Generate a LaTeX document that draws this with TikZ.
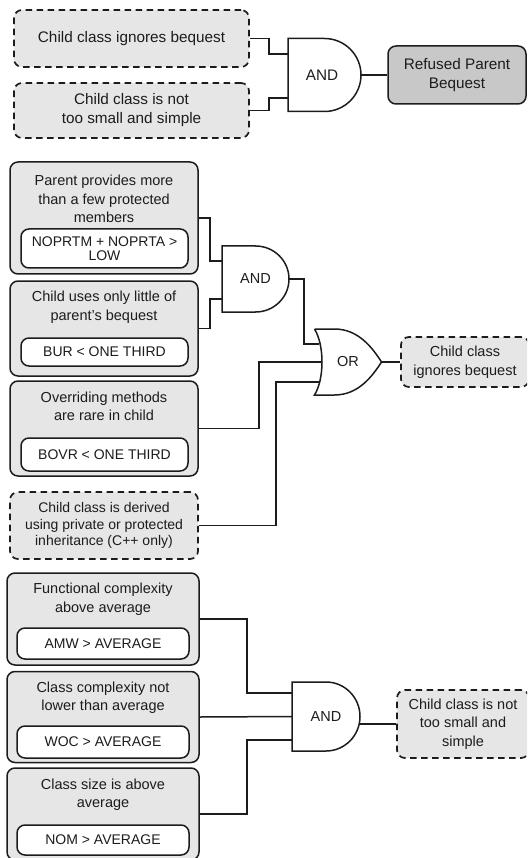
\documentclass[tikz,border=0pt]{standalone}
\usepackage{fontspec}
\setmainfont{Liberation Sans}
\usetikzlibrary{calc}

\definecolor{boxfill}{HTML}{E6E6E6}
\definecolor{darkfill}{HTML}{C8C8C8}
\definecolor{ink}{HTML}{1C1C1C}

\tikzset{
  every node/.style={text=ink, font=\fontsize{14.5}{18.5}\selectfont},
  bigtext/.style={font=\fontsize{15.3}{19}\selectfont},
  dashbox/.style={draw=ink, line width=1.7pt, dash pattern=on 6.5pt off 4.5pt,
    fill=boxfill, rounded corners=8pt, align=center, inner sep=0pt},
  critbox/.style={draw=ink, line width=1.5pt, fill=boxfill,
    rounded corners=8pt, inner sep=0pt},
  metricbox/.style={draw=ink, line width=1.5pt, fill=white,
    rounded corners=8pt, inner sep=0pt, align=center,
    font=\fontsize{14}{14.5}\selectfont},
  resultbox/.style={draw=ink, line width=1.5pt, fill=darkfill,
    rounded corners=8pt, inner sep=0pt, align=center},
  title/.style={align=center, inner sep=0pt},
  gate/.style={inner sep=0pt, outer sep=0pt},
  gateline/.style={draw=ink, line width=1.5pt},
  wire/.style={draw=ink, line width=1.5pt},
}

% AND gate outline drawn from the anchors of its node
\newcommand{\andshape}[1]{%
  \draw[gateline] (#1.south west) -- (#1.north west) -- (#1.north)
    .. controls ($(#1.north)!0.552!(#1.north east)$) and ($(#1.east)!0.552!(#1.north east)$) .. (#1.east)
    .. controls ($(#1.east)!0.552!(#1.south east)$) and ($(#1.south)!0.552!(#1.south east)$) .. (#1.south)
    -- cycle;}

% OR gate outline drawn from the anchors of its node
\newcommand{\orshape}[1]{%
  \draw[gateline] (#1.north west) -- ($(#1.north west)+(20,0)$)
    .. controls ($(#1.north west)+(44,0)$) and ($(#1.east)+(-9,-14)$) .. (#1.east)
    .. controls ($(#1.east)+(-9,14)$) and ($(#1.south west)+(44,0)$) .. ($(#1.south west)+(20,0)$)
    -- (#1.south west)
    .. controls ($(#1.south west)+(10,-16)$) and ($(#1.north west)+(10,16)$) .. (#1.north west);}

\begin{document}
\begin{tikzpicture}[x=1pt, y=-1pt]
\useasboundingbox (0,0) rectangle (527,858);
\clip (0,0) rectangle (527,858);

% ---------- top: refused parent bequest ----------
\node[dashbox, bigtext, minimum width=235pt, minimum height=57pt] (A) at (131.5,38.5)
  {Child class ignores bequest};
\node[dashbox, bigtext, minimum width=235pt, minimum height=55pt] (B) at (131.5,110.5)
  {Child class is not\\too small and simple};
\node[resultbox, bigtext, minimum width=138pt, minimum height=58pt] (C) at (457,75)
  {Refused Parent\\Bequest};
\node[gate, bigtext, minimum width=73pt, minimum height=73pt] (g1) at (324.5,75) {};
\node[bigtext] (g1t) at (322,75) {AND};
\andshape{g1}
\coordinate (g1i1) at ($(g1.west)+(0,-21)$);
\coordinate (g1i2) at ($(g1.west)+(0,23)$);
\draw[wire] (A.east) -- ++(19,0) |- (g1i1);
\draw[wire] (B.east) -- ++(19,0) |- (g1i2);
\draw[wire] (g1.east) -- (C.west);

% ---------- middle: child class ignores bequest ----------
\node[critbox, minimum width=188pt, minimum height=112pt] (p1) at (104,218) {};
\node[title] (p1t) at (104,199) {Parent provides more\\than a few protected\\members};
\node[metricbox, minimum width=167pt, minimum height=39pt] (p1m) at (104.5,248.5)
  {NOPRTM + NOPRTA >\\LOW};

\node[critbox, minimum width=188pt, minimum height=95pt] (p2) at (104,328.5) {};
\node[title] (p2t) at (104,307.5) {Child uses only little of\\parent's bequest};
\node[metricbox, minimum width=167pt, minimum height=28pt] (p2m) at (104.5,352)
  {BUR < ONE THIRD};

\node[critbox, minimum width=188pt, minimum height=95pt] (p3) at (104,428.5) {};
\node[title] (p3t) at (104,406.5) {Overriding methods\\are rare in child};
\node[metricbox, minimum width=167pt, minimum height=33pt] (p3m) at (104.5,454.5)
  {BOVR < ONE THIRD};

\node[dashbox, minimum width=188pt, minimum height=67pt,
  font=\fontsize{14}{16.5}\selectfont] (d) at (104,525.5)
  {Child class is derived\\using private or protected\\inheritance (C++ only)};

\node[dashbox, minimum width=128pt, minimum height=50pt] (E) at (465,362)
  {Child class\\ignores bequest};

\node[gate, minimum width=67pt, minimum height=66pt] (g2) at (255.5,279) {AND};
\andshape{g2}
\coordinate (g2i1) at ($(g2.west)+(0,-18)$);
\coordinate (g2i2) at ($(g2.west)+(0,20)$);

\node[gate, minimum width=67pt, minimum height=66pt] (or1) at (348,362) {OR};
\orshape{or1}
\coordinate (or1i1) at ($(or1.west)+(4.5,-18)$);
\coordinate (or1i2) at ($(or1.west)+(7.5,0)$);
\coordinate (or1i3) at ($(or1.west)+(4.5,20)$);

\draw[wire] (p1.east) -- ++(11,0) |- (g2i1);
\draw[wire] (p2.east) -- ++(11,0) |- (g2i2);
\draw[wire] (g2.east) -- ++(15,0) |- (or1i1);
\draw[wire] (p3.east) -- ++(60,0) |- (or1i2);
\draw[wire] (d.east) -- ++(77,0) |- (or1i3);
\draw[wire] (or1.east) -- (E.west);

% ---------- bottom: child class is not too small and simple ----------
\node[critbox, minimum width=192pt, minimum height=92pt] (f1) at (103,619) {};
\node[title] (f1t) at (103,599) {Functional complexity\\above average};
\node[metricbox, minimum width=172pt, minimum height=31pt] (f1m) at (103,643.5)
  {AMW > AVERAGE};

\node[critbox, minimum width=192pt, minimum height=91pt] (f2) at (103,717) {};
\node[title] (f2t) at (103,697.5) {Class complexity not\\lower than average};
\node[metricbox, minimum width=172pt, minimum height=32pt] (f2m) at (103,742)
  {WOC > AVERAGE};

\node[critbox, minimum width=192pt, minimum height=92pt] (f3) at (103,814) {};
\node[title] (f3t) at (103,794.5) {Class size is above\\average};
\node[metricbox, minimum width=172pt, minimum height=30pt] (f3m) at (103,840)
  {NOM > AVERAGE};

\node[dashbox, minimum width=132pt, minimum height=68pt] (G) at (463,724)
  {Child class is not\\too small and\\simple};

\node[gate, minimum width=68pt, minimum height=69pt] (g3) at (326,716.5) {AND};
\andshape{g3}
\coordinate (g3i1) at ($(g3.west)+(0,-23.5)$);
\coordinate (g3i3) at ($(g3.west)+(0,23.5)$);

\draw[wire] (f1.east) -- ++(47,0) |- (g3i1);
\draw[wire] (f2.east) -- (g3.west);
\draw[wire] (f3.east) -- ++(47,0) |- (g3i3);
\draw[wire] (g3.east |- G.west) -- (G.west);

\end{tikzpicture}
\end{document}
